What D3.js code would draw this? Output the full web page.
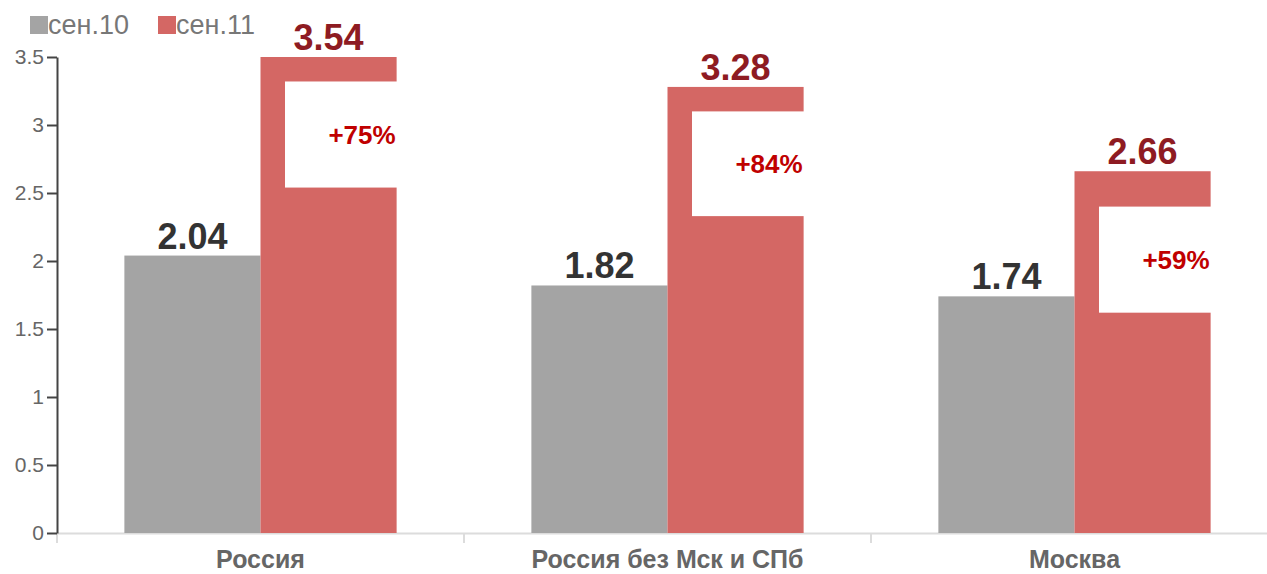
<!DOCTYPE html>
<html>
<head>
<meta charset="utf-8">
<script src="https://cdn.jsdelivr.net/npm/d3@7"></script>
<style>
  body { margin: 0; background: #fff; }
  text { font-family: "Liberation Sans", Arial, sans-serif; }
</style>
</head>
<body>
<svg id="chart" width="1267" height="574"></svg>
<script>
// data
const categories = ["Россия", "Россия без Мск и СПб", "Москва"];
const seriesNames = ["сен.10", "сен.11"];
const sep10 = [2.04, 1.82, 1.74];
const sep11 = [3.54, 3.28, 2.66];
const growth = ["+75%", "+84%", "+59%"];
// white annotation boxes on the red bars, in axis units (top, bottom)
const boxTop = [3.32, 3.10, 2.40];
const boxBottom = [2.54, 2.33, 1.62];
const yTicks = [0, 0.5, 1, 1.5, 2, 2.5, 3, 3.5];

const colors = ["#a4a4a4", "#d46764"];
const labelColors = ["#333333", "#8e1b22"];

const svg = d3.select("#chart");
const plotLeft = 57, plotBottom = 533, plotTop = 57, plotRight = 1278;

const x = d3.scaleBand().domain(categories).range([plotLeft, plotRight]).paddingInner(0).paddingOuter(0);
const xs = d3.scaleBand().domain(seriesNames).range([0, x.bandwidth()]).paddingOuter(0.495).paddingInner(0);
const y = d3.scaleLinear().domain([0, 3.5]).range([plotBottom, plotTop]).clamp(true);

// x axis baseline + ticks at band borders
svg.append("line")
  .attr("x1", plotLeft).attr("x2", 1267)
  .attr("y1", plotBottom + 0.5).attr("y2", plotBottom + 0.5)
  .attr("stroke", "#dcdcdc").attr("stroke-width", 2);
const borders = categories.map(c => x(c));
svg.selectAll(".xtick").data(borders).join("line")
  .attr("class", "xtick")
  .attr("x1", d => d).attr("x2", d => d)
  .attr("y1", plotBottom).attr("y2", plotBottom + 10)
  .attr("stroke", "#dcdcdc").attr("stroke-width", 2);

const rows = categories.map((c, i) => ({ c, i, vals: [sep10[i], sep11[i]] }));

const g = svg.selectAll(".grp").data(rows).join("g")
  .attr("class", "grp")
  .attr("transform", d => `translate(${x(d.c)},0)`);

g.selectAll("rect.bar").data(d => d.vals.map((v, k) => ({ v, k, s: seriesNames[k] })))
  .join("rect")
  .attr("class", "bar")
  .attr("x", d => xs(d.s))
  .attr("width", xs.bandwidth())
  .attr("y", d => y(d.v))
  .attr("height", d => plotBottom - y(d.v))
  .attr("fill", d => colors[d.k]);

g.selectAll("text.val").data(d => d.vals.map((v, k) => ({ v, k, s: seriesNames[k] })))
  .join("text")
  .attr("class", "val")
  .attr("x", d => xs(d.s) + xs.bandwidth() / 2)
  .attr("y", d => y(d.v) - 7)
  .attr("text-anchor", "middle")
  .attr("font-size", 36)
  .attr("font-weight", "bold")
  .attr("fill", d => labelColors[d.k])
  .text(d => d.v.toFixed(2));

// annotation boxes
g.append("rect")
  .attr("x", d => xs(seriesNames[1]) + xs.bandwidth() * 0.18)
  .attr("width", xs.bandwidth() * 0.82 + 1)
  .attr("y", d => y(boxTop[d.i]))
  .attr("height", d => y(boxBottom[d.i]) - y(boxTop[d.i]))
  .attr("fill", "#fff");

g.append("text")
  .attr("x", d => xs(seriesNames[1]) + xs.bandwidth() - 1)
  .attr("y", d => (y(boxTop[d.i]) + y(boxBottom[d.i])) / 2 + 9)
  .attr("text-anchor", "end")
  .attr("font-size", 26)
  .attr("font-weight", "bold")
  .attr("fill", "#c00000")
  .text(d => growth[d.i]);

// category labels
svg.selectAll(".xlab").data(categories).join("text")
  .attr("class", "xlab")
  .attr("x", d => x(d) + x.bandwidth() / 2)
  .attr("y", 568)
  .attr("text-anchor", "middle")
  .attr("font-size", 25)
  .attr("font-weight", "bold")
  .attr("fill", "#666")
  .text(d => d);

// y axis
const yAxis = svg.append("g")
  .attr("transform", `translate(${plotLeft},0)`)
  .call(d3.axisLeft(y).tickValues(yTicks).tickSize(10).tickSizeOuter(0).tickFormat(d3.format("")));
yAxis.select(".domain").attr("stroke", "#444").attr("stroke-width", 2);
yAxis.selectAll(".tick line").attr("stroke", "#444").attr("stroke-width", 2);
yAxis.selectAll(".tick text")
  .attr("font-family", "Liberation Sans, Arial, sans-serif")
  .attr("font-size", 21)
  .attr("fill", "#666")
  .attr("x", -13);

// legend
const leg = svg.selectAll(".leg").data(seriesNames).join("g")
  .attr("class", "leg")
  .attr("transform", (d, i) => `translate(${30 + i * 128},16)`);
leg.append("rect").attr("width", 18).attr("height", 18)
  .attr("fill", (d, i) => colors[i]);
leg.append("text")
  .attr("x", 18).attr("y", 18)
  .attr("font-size", 27)
  .attr("fill", "#777")
  .text(d => d);
</script>
</body>
</html>
